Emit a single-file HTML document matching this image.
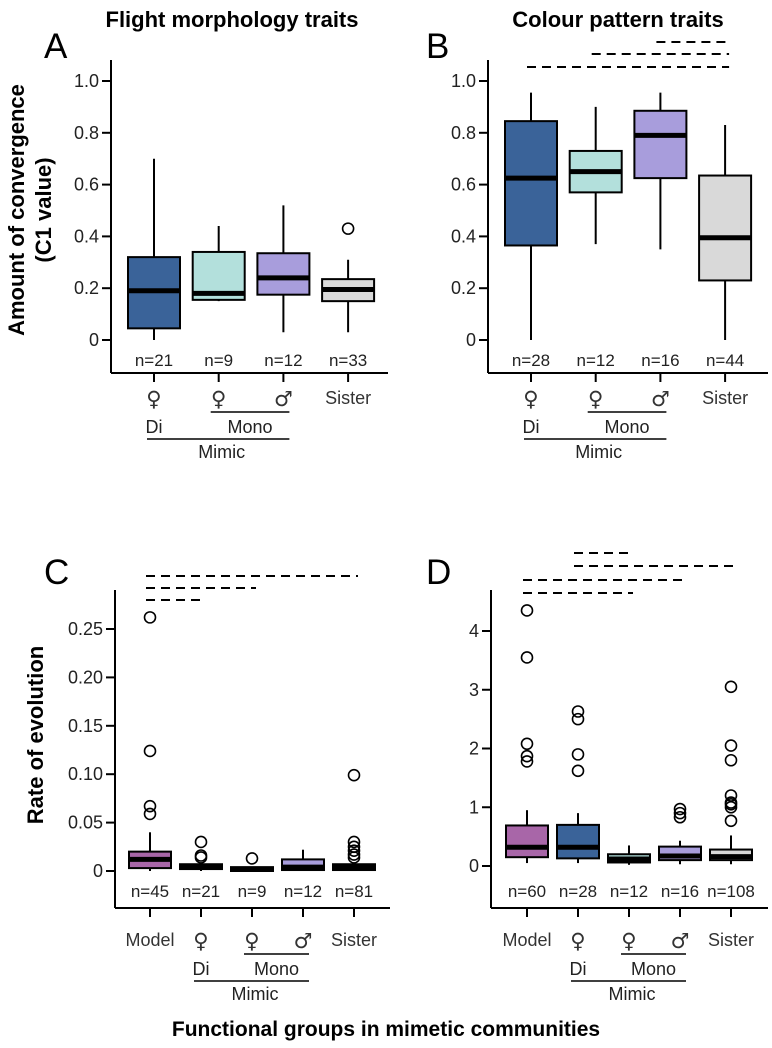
<!DOCTYPE html>
<html><head><meta charset="utf-8"><style>
body{margin:0;background:#fff;}
svg{display:block;font-family:"Liberation Sans",sans-serif;}
</style></head><body>
<svg id="fig" width="772" height="1048" viewBox="0 0 772 1048">
<text x="232" y="27" font-size="22" font-weight="bold" text-anchor="middle">Flight morphology traits</text>
<text x="618" y="27" font-size="22" font-weight="bold" text-anchor="middle">Colour pattern traits</text>
<text x="44" y="58" font-size="35">A</text>
<text x="426" y="58" font-size="35">B</text>
<text x="44" y="584" font-size="35">C</text>
<text x="426" y="584" font-size="35">D</text>
<text transform="translate(24,210) rotate(-90)" font-size="22" font-weight="bold" text-anchor="middle">Amount of convergence</text>
<text transform="translate(51,210) rotate(-90)" font-size="22" font-weight="bold" text-anchor="middle">(C1 value)</text>
<text transform="translate(43,735) rotate(-90)" font-size="22" font-weight="bold" text-anchor="middle">Rate of evolution</text>
<text x="386" y="1036" font-size="21" font-weight="bold" text-anchor="middle">Functional groups in mimetic communities</text>
</svg>
<script>
// Panel A data
const aLabels=["Di♀","Mono♀","Mono♂","Sister"];
const aN=["n=21","n=9","n=12","n=33"];
const aLo=[0,0.15,0.03,0.03];
const aQ1=[0.045,0.155,0.175,0.15];
const aMed=[0.19,0.18,0.24,0.195];
const aQ3=[0.32,0.34,0.335,0.235];
const aHi=[0.70,0.44,0.52,0.31];
const aOut=[[],[],[],[0.43]];
const aColors=["#3a6399","#b3e0dc","#a89ddc","#d9d9d9"];
const aTicks=[0,0.2,0.4,0.6,0.8,1.0];
const aTickLabels=["0","0.2","0.4","0.6","0.8","1.0"];
// Panel B data
const bN=["n=28","n=12","n=16","n=44"];
const bLo=[0,0.37,0.35,0];
const bQ1=[0.365,0.57,0.625,0.23];
const bMed=[0.625,0.65,0.79,0.395];
const bQ3=[0.845,0.73,0.885,0.635];
const bHi=[0.955,0.90,0.955,0.83];
const bOut=[[],[],[],[]];
const bSig=[[0,3],[1,3],[2,3]];
// Panel C data
const cN=["n=45","n=21","n=9","n=12","n=81"];
const cLo=[0,0,0,0,0];
const cQ1=[0.003,0.002,0,0.001,0.001];
const cMed=[0.012,0.004,0.002,0.004,0.004];
const cQ3=[0.02,0.007,0.004,0.012,0.007];
const cHi=[0.04,0.008,0.004,0.022,0.008];
const cOut=[[0.262,0.124,0.067,0.059],[0.030,0.016,0.014],[0.013],[],[0.099,0.030,0.025,0.021,0.017,0.014]];
const cTicks=[0,0.05,0.10,0.15,0.20,0.25];
const cTickLabels=["0","0.05","0.10","0.15","0.20","0.25"];
const cSig=[[0,4],[0,2],[0,1]];
const cdColors=["#a866a8","#3a6399","#b3e0dc","#a89ddc","#d9d9d9"];
// Panel D data
const dN=["n=60","n=28","n=12","n=16","n=108"];
const dLo=[0.05,0.05,0.02,0.03,0.03];
const dQ1=[0.15,0.13,0.06,0.1,0.1];
const dMed=[0.32,0.32,0.12,0.17,0.16];
const dQ3=[0.69,0.70,0.2,0.33,0.28];
const dHi=[0.95,0.90,0.35,0.43,0.52];
const dOut=[[4.35,3.55,2.08,1.87,1.78],[2.63,2.5,1.9,1.62],[],[0.97,0.9,0.83],[3.05,2.05,1.8,1.2,1.08,1.05,1.0,0.77]];
const dTicks=[0,1,2,3,4];
const dTickLabels=["0","1","2","3","4"];
const dSig=[[1,2],[1,4],[0,3],[0,2]];

const svg=document.getElementById('fig');
const NS="http://www.w3.org/2000/svg";
function el(tag,attrs,parent){const e=document.createElementNS(NS,tag);for(const k in attrs)e.setAttribute(k,attrs[k]);(parent||svg).appendChild(e);return e;}

function panel(cfg){
  const g=el('g',{});
  
  
  const y=v=>cfg.y0-(v-cfg.vmin)*cfg.scale;
  const x=i=>cfg.xs[0]+i*cfg.dx;
  const ya=el('line',{x1:cfg.ax,x2:cfg.ax,y1:cfg.top,y2:cfg.bot,stroke:'#000','stroke-width':2},g);
  
  
  const xa=el('line',{x1:cfg.ax,x2:cfg.axEnd,y1:cfg.bot,y2:cfg.bot,stroke:'#000','stroke-width':2},g);
  
  
  cfg.ticks.forEach((t,i)=>{
    el('line',{x1:cfg.ax-9,x2:cfg.ax,y1:y(t),y2:y(t),stroke:'#000','stroke-width':2},g);
    const tx=el('text',{x:cfg.ax-12,y:y(t)+6,'font-size':18,'text-anchor':'end',fill:'#222'},g);
    tx.textContent=cfg.tickLabels[i];
    
    
  });
  const n=cfg.med.length;
  for(let i=0;i<n;i++){
    const cx=x(i),hw=cfg.bw/2;
    el('line',{x1:cx,x2:cx,y1:y(cfg.lo[i]),y2:y(cfg.hi[i]),stroke:'#000','stroke-width':2},g);
    const b=el('rect',{x:cx-hw,y:y(cfg.q3[i]),width:cfg.bw,height:Math.max(1,y(cfg.q1[i])-y(cfg.q3[i])),fill:cfg.colors[i],stroke:'#000','stroke-width':2},g);
    
    
    el('line',{x1:cx-hw,x2:cx+hw,y1:y(cfg.med[i]),y2:y(cfg.med[i]),stroke:'#000','stroke-width':5},g);
    cfg.out[i].forEach(o=>{
      const c=el('circle',{cx:cx,cy:y(o),r:5.5,fill:'none',stroke:'#000','stroke-width':1.6},g);
      
      
    });
    el('line',{x1:cx,x2:cx,y1:cfg.bot,y2:cfg.bot+9,stroke:'#000','stroke-width':2},g);
    const nt=el('text',{x:cx,y:cfg.nY,'font-size':17,'text-anchor':'middle',fill:'#222'},g);
    nt.textContent=cfg.nl[i];
    
    
  }
  (cfg.sig||[]).forEach((s,k)=>{
    const l=el('line',{x1:x(s[0])-4,x2:x(s[1])+4,y1:cfg.sigY[k],y2:cfg.sigY[k],stroke:'#000','stroke-width':2,'stroke-dasharray':'9,6'},g);
    
    
  });
  const names=cfg.model?["Model","♀","♀","♂","Sister"]:["♀","♀","♂","Sister"];
  names.forEach((t,i)=>{
    const sym=(t.length===1);
    const lt=el('text',{x:x(i),y:cfg.catY+(sym?2:0),'font-size':sym?21:18,'text-anchor':'middle',fill:'#333','font-family':sym?'"DejaVu Sans",sans-serif':'"Liberation Sans",sans-serif'},g);
    lt.textContent=t;
    
    
  });
  const o=cfg.model?1:0;
  const mx1=x(o+1)-8,mx2=x(o+2)+6;
  el('line',{x1:mx1,x2:mx2,y1:cfg.monoLineY,y2:cfg.monoLineY,stroke:'#000','stroke-width':1.6},g);
  const dl=el('text',{x:x(o),y:cfg.monoLineY+21,'font-size':18,'text-anchor':'middle',fill:'#222'},g);dl.textContent="Di";
  const ml=el('text',{x:(mx1+mx2)/2,y:cfg.monoLineY+21,'font-size':18,'text-anchor':'middle',fill:'#222'},g);ml.textContent="Mono";
  el('line',{x1:x(o)-7,x2:mx2,y1:cfg.monoLineY+27,y2:cfg.monoLineY+27,stroke:'#000','stroke-width':1.6},g);
  const mm=el('text',{x:(x(o)+mx2)/2,y:cfg.monoLineY+46,'font-size':18,'text-anchor':'middle',fill:'#222'},g);mm.textContent="Mimic";
}
panel({name:'panel-a',xs:[154],dx:64.7,bw:52,ax:111,axEnd:388,top:60,bot:373,y0:340,vmin:0,scale:259,
  ticks:aTicks,tickLabels:aTickLabels,lo:aLo,q1:aQ1,med:aMed,q3:aQ3,hi:aHi,out:aOut,colors:aColors,nl:aN,nY:366,catY:404,monoLineY:412});
panel({name:'panel-b',xs:[531],dx:64.7,bw:52,ax:488,axEnd:768,top:60,bot:373,y0:340,vmin:0,scale:259,
  ticks:aTicks,tickLabels:aTickLabels,lo:bLo,q1:bQ1,med:bMed,q3:bQ3,hi:bHi,out:bOut,colors:aColors,nl:bN,nY:366,catY:404,monoLineY:412,
  sig:bSig,sigY:[67,54,42]});
panel({name:'panel-c',xs:[150],dx:51,bw:42,ax:115,axEnd:390,top:590,bot:908,y0:871,vmin:0,scale:968,
  ticks:cTicks,tickLabels:cTickLabels,lo:cLo,q1:cQ1,med:cMed,q3:cQ3,hi:cHi,out:cOut,colors:cdColors,nl:cN,nY:897,catY:946,monoLineY:954,model:true,
  sig:cSig,sigY:[576,588,600]});
panel({name:'panel-d',xs:[527],dx:51,bw:42,ax:491,axEnd:768,top:590,bot:908,y0:866,vmin:0,scale:58.75,
  ticks:dTicks,tickLabels:dTickLabels,lo:dLo,q1:dQ1,med:dMed,q3:dQ3,hi:dHi,out:dOut,colors:cdColors,nl:dN,nY:897,catY:946,monoLineY:954,model:true,
  sig:dSig,sigY:[553,566,580,593]});
</script>
</body></html>
